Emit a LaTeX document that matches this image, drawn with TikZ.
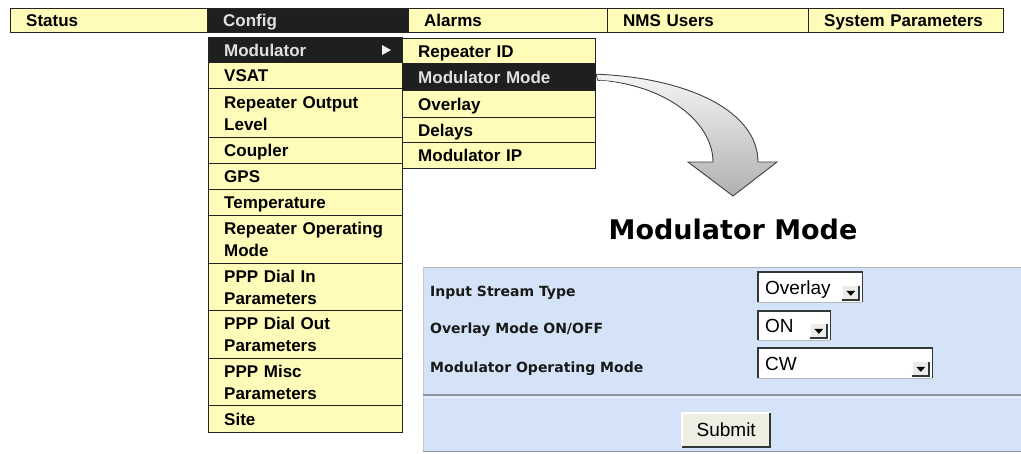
\documentclass[tikz,border=0pt]{standalone}
\usepackage{fontspec}
\newfontfamily\libsans{Liberation Sans}
\newfontfamily\dejavu{DejaVu Sans}
\usetikzlibrary{calc}
\definecolor{menuyellow}{RGB}{254,252,184}
\definecolor{menudark}{RGB}{30,32,32}
\definecolor{menuline}{RGB}{35,35,35}
\definecolor{paneblue}{RGB}{212,227,247}
\definecolor{paneline}{RGB}{140,150,162}
\definecolor{btnface}{RGB}{238,238,226}
\definecolor{boxedge}{RGB}{50,55,55}
\newcommand\cellstrut{\rule[-5pt]{0pt}{22pt}}
\tikzset{
  cellbase/.style={draw=menuline, line width=1.4pt, rectangle, inner xsep=15.5pt,
    inner ysep=0pt, anchor=north west, align=left,
    execute at begin node=\cellstrut, execute at end node=\cellstrut,
    font=\libsans\bfseries\fontsize{17}{22}\selectfont},
  ycell/.style={cellbase, fill=menuyellow, text=black},
  dcell/.style={cellbase, fill=menudark, text=white!88!black},
  formlabel/.style={inner sep=0pt, anchor=base west, text=black!90,
    font=\dejavu\bfseries\fontsize{14}{17}\selectfont},
  inputtext/.style={inner sep=0pt, text=black,
    font=\libsans\fontsize{19}{23}\selectfont},
  headtext/.style={inner sep=0pt, anchor=base, text=black,
    font=\dejavu\bfseries\fontsize{27}{32}\selectfont},
  boxrim/.style={draw=boxedge, line width=1.8pt},
  bigarrow/.style={draw=gray!50!black, line width=0.9pt, top color=gray!8, bottom color=gray!62},
}
\newcommand\menucell[7]{%
  \pgfmathsetmacro\mcw{#4-#2}\pgfmathsetmacro\mch{#5-#3}\pgfmathsetmacro\mctw{#4-#2-31}%
  \node[#6, minimum width=\mcw pt, minimum height=\mch pt, text width=\mctw pt] (#1) at (#2,#3) {#7};}
% name, x1, y1, x2, y2, baseline, text
\newcommand\selectbox[7]{%
  \pgfmathsetmacro\sbw{#4-#2}\pgfmathsetmacro\sbh{#5-#3}%
  \node[fill=white, inner sep=0pt, anchor=north west, minimum width=\sbw pt, minimum height=\sbh pt] (#1) at (#2,#3) {};
  \draw[gray!55, line width=1pt] (#1.south west) -- (#1.south east);
  \draw[boxrim] (#1.south west) -- (#1.north west) -- (#1.north east) -- (#1.south east);
  \node[inputtext, anchor=base west] (#1-text) at (#2+7,#6) {#7};
  \node[fill=gray!15, inner sep=0pt, anchor=south east, minimum width=16pt, minimum height=14pt] (#1-btn) at (#4-3,#5-2) {};
  \draw[white, line width=1pt] (#1-btn.south west) -- (#1-btn.north west) -- (#1-btn.north east);
  \draw[boxedge, line width=1.6pt] ([xshift=-1pt]#1-btn.south west) -- (#1-btn.south east) -- (#1-btn.north east);
  \fill[black] ($(#1-btn.center)+(-4.5,-2)$) -- ($(#1-btn.center)+(4.5,-2)$) -- ($(#1-btn.center)+(0,3)$) -- cycle;
}
\begin{document}
\begin{tikzpicture}[x=1pt,y=-1pt]
\useasboundingbox (0,0) rectangle (1021,453);
\fill[white] (0,0) rectangle (1021,453);

% top bar
\menucell{status}{10}{8}{207}{32}{ycell}{Status}
\menucell{config}{207}{8}{408}{32}{dcell}{Config}
\menucell{alarms}{408}{8}{607}{32}{ycell}{Alarms}
\menucell{nms}{607}{8}{808}{32}{ycell}{NMS Users}
\menucell{sysparam}{808}{8}{1003}{32}{ycell}{System Parameters}

% config dropdown
\menucell{modulator}{208}{37}{402}{62}{dcell}{Modulator}
\menucell{vsat}{208}{62}{402}{88}{ycell}{VSAT}
\menucell{rol}{208}{88}{402}{137}{ycell}{Repeater Output\\Level}
\menucell{coupler}{208}{137}{402}{163}{ycell}{Coupler}
\menucell{gps}{208}{163}{402}{189}{ycell}{GPS}
\menucell{temp}{208}{189}{402}{215}{ycell}{Temperature}
\menucell{rom}{208}{215}{402}{263}{ycell}{Repeater Operating\\Mode}
\menucell{dialin}{208}{263}{402}{310}{ycell}{PPP Dial In\\Parameters}
\menucell{dialout}{208}{310}{402}{358}{ycell}{PPP Dial Out\\Parameters}
\menucell{misc}{208}{358}{402}{405}{ycell}{PPP Misc\\Parameters}
\menucell{site}{208}{405}{402}{432}{ycell}{Site}
\fill[white!90!gray] (382,45) -- (391,50) -- (382,55) -- cycle;

% modulator submenu
\menucell{repid}{402}{38}{595}{63}{ycell}{Repeater ID}
\menucell{modmode}{402}{63}{595}{90}{dcell}{Modulator Mode}
\menucell{overlay}{402}{90}{595}{117}{ycell}{Overlay}
\menucell{delays}{402}{117}{595}{142}{ycell}{Delays}
\menucell{modip}{402}{142}{595}{168}{ycell}{Modulator IP}

% big curved arrow
\coordinate (arrtail) at (modmode.east);
\path[bigarrow] ($(arrtail)+(0,-3)$) .. controls (690,78) and (758,112) .. (758,162)
  -- (777,162) -- (733,196) -- (688,162) -- (713,162)
  .. controls (713,122) and (665,84) .. ($(arrtail)+(1,3)$) -- cycle;
\draw[white, line width=1pt] (600,81) .. controls (662,87) and (709,124) .. (710,160);

% heading
\node[headtext] (heading) at (733,239) {Modulator Mode};

% form panel
\node[fill=paneblue, inner sep=0pt, anchor=north west, minimum width=598pt, minimum height=184pt] (panel) at (423,267) {};
\draw[paneline!70, line width=1pt] (panel.north west) -- (panel.north east);
\draw[gray!45, line width=0.8pt] (panel.north west) -- (panel.south west);
\draw[paneline, line width=1.2pt] (423,395) -- (1021,395);
\draw[white!80!paneblue, line width=1pt] (423,397) -- (1021,397);
\draw[paneline, line width=1.2pt] (panel.south west) -- (panel.south east);

\node[formlabel] (lblinput) at (430,296) {Input Stream Type};
\node[formlabel] (lbloverlay) at (430,333) {Overlay Mode ON/OFF};
\node[formlabel] (lblmode) at (430,372) {Modulator Operating Mode};

\selectbox{selinput}{758}{272}{862}{302}{294}{Overlay}
\selectbox{selovl}{758}{311}{830}{340}{332.5}{ON}
\selectbox{selmode}{758}{348}{932}{378}{370}{CW}

% submit button
\node[fill=btnface, inputtext, anchor=north west, minimum width=88pt, minimum height=34pt] (submit) at (682,413) {};
\node[inputtext] (submittext) at (submit.center) {Submit};
\draw[white, line width=1.2pt] (submit.south west) -- (submit.north west) -- (submit.north east);
\draw[boxedge, line width=2pt] (submit.south west) -- (submit.south east) -- (submit.north east);
\end{tikzpicture}
\end{document}
